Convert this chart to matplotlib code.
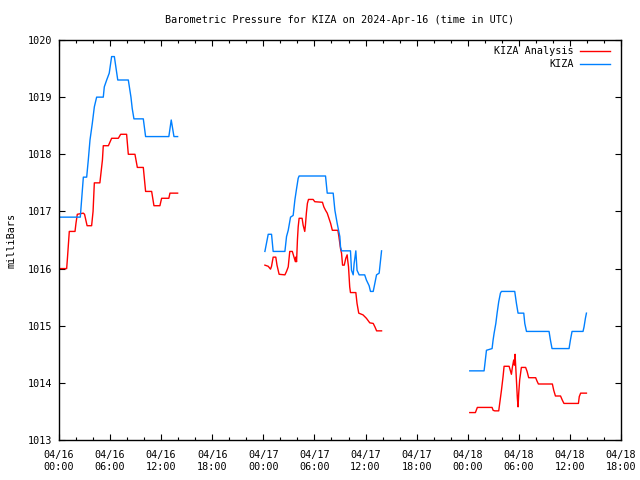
import numpy as np
import matplotlib
matplotlib.use("Agg")
import matplotlib.pyplot as plt
from matplotlib.ticker import MultipleLocator

nan = float("nan")

# hours since 2024-04-16 00:00 UTC
kiza_hours = [0.0, 2.5, 2.86, 3.25, 3.44, 3.64, 3.91, 4.15, 4.42, 5.2, 5.32, 5.6, 5.9, 6.18, 6.5,
              6.9, 8.14, 8.45, 8.6, 8.8, 9.9, 10.17, 12.9, 13.18, 13.5, 13.93,
              nan,
              24.18, 24.57, 24.96, 25.15, 26.53, 26.72, 26.92, 27.19, 27.5, 27.7, 27.9, 28.09, 28.2,
              31.3, 31.5, 32.2, 32.4, 32.67, 32.98, 33.06, 33.18, 34.23, 34.35, 34.55, 34.66, 34.86,
              35.0, 35.25, 35.9, 36.1, 36.42, 36.58, 36.9, 37.09, 37.29, 37.6, 37.88,
              nan,
              48.24, 49.92, 50.0, 50.2, 50.86, 50.98, 51.1, 51.3, 51.45, 51.64, 51.84, 51.96, 53.52,
              53.72, 53.91, 54.58, 54.7, 54.9, 57.55, 57.71, 57.9, 59.9, 60.06, 60.25, 61.54, 61.66,
              61.82, 61.94]
kiza_values = [1016.9, 1016.9, 1017.6, 1017.6, 1017.9, 1018.25, 1018.54, 1018.83, 1019.0, 1019.0,
               1019.18, 1019.3, 1019.42, 1019.71, 1019.71, 1019.3, 1019.3, 1019.0, 1018.8, 1018.62,
               1018.62, 1018.31, 1018.31, 1018.6, 1018.31, 1018.31,
               nan,
               1016.3, 1016.6, 1016.6, 1016.3, 1016.3, 1016.56, 1016.67, 1016.9, 1016.93, 1017.2,
               1017.4, 1017.58, 1017.62, 1017.62, 1017.32, 1017.32, 1017.02, 1016.79, 1016.56,
               1016.38, 1016.31, 1016.31, 1015.97, 1015.89, 1016.09, 1016.31, 1015.97, 1015.89,
               1015.89, 1015.8, 1015.7, 1015.6, 1015.6, 1015.74, 1015.89, 1015.92, 1016.31,
               nan,
               1014.21, 1014.21, 1014.31, 1014.57, 1014.6, 1014.75, 1014.87, 1015.04, 1015.22,
               1015.42, 1015.57, 1015.6, 1015.6, 1015.39, 1015.22, 1015.22, 1015.04, 1014.9,
               1014.9, 1014.75, 1014.6, 1014.6, 1014.75, 1014.9, 1014.9, 1014.98, 1015.13, 1015.22]

analysis_hours = [0.0, 0.9, 1.0, 1.21, 1.88, 2.0, 2.15, 2.85, 3.0, 3.3, 3.83, 4.0, 4.15, 4.8, 5.1,
                  5.2, 5.8, 6.18, 6.97, 7.24, 7.94, 8.14, 8.92, 9.2, 9.9, 10.17, 10.88, 11.15, 11.85,
                  12.05, 12.9, 13.03, 13.93,
                  nan,
                  24.18, 24.57, 24.84, 24.96, 25.15, 25.46, 25.6, 25.85, 26.53, 26.72, 26.92, 27.1,
                  27.4, 27.6, 27.76, 27.8, 27.9, 28.0, 28.09, 28.2, 28.55, 28.67, 28.86, 28.94,
                  29.05, 29.17, 29.3, 29.84, 30.04, 30.94, 31.1, 31.3, 31.5, 31.7, 31.9, 32.1,
                  32.75, 32.87, 33.06, 33.18, 33.3, 33.5, 33.68, 33.84, 33.9, 34.0, 34.06, 34.14,
                  34.23, 34.86, 35.0, 35.2, 35.7, 36.1, 36.5, 36.9, 37.1, 37.3, 37.88,
                  nan,
                  48.24, 48.9, 49.13, 50.86, 50.98, 51.17, 51.64, 51.76, 51.96, 52.15, 52.27, 52.86,
                  53.0, 53.13, 53.25, 53.4, 53.48, 53.56, 53.72, 53.83, 53.91, 53.99, 54.1, 54.3,
                  54.8, 54.97, 55.16, 55.98, 56.14, 56.3, 57.94, 58.1, 58.3, 58.9, 59.1, 59.3,
                  61.0, 61.1, 61.26, 61.94]
analysis_values = [1016.0, 1016.0, 1016.2, 1016.65, 1016.65, 1016.8, 1016.95, 1016.97, 1016.95,
                   1016.75, 1016.75, 1017.0, 1017.5, 1017.5, 1017.9, 1018.15, 1018.15, 1018.28,
                   1018.28, 1018.35, 1018.35, 1018.0, 1018.0, 1017.77, 1017.77, 1017.35, 1017.35,
                   1017.1, 1017.1, 1017.23, 1017.23, 1017.32, 1017.32,
                   nan,
                   1016.06, 1016.04, 1015.99, 1016.04, 1016.2, 1016.2, 1016.06, 1015.9, 1015.89,
                   1015.95, 1016.03, 1016.3, 1016.3, 1016.2, 1016.12, 1016.2, 1016.12, 1016.5,
                   1016.73, 1016.88, 1016.88, 1016.76, 1016.65, 1016.76, 1016.97, 1017.14, 1017.21,
                   1017.21, 1017.17, 1017.16, 1017.08, 1017.02, 1016.97, 1016.88, 1016.79, 1016.67,
                   1016.67, 1016.56, 1016.35, 1016.27, 1016.06, 1016.06, 1016.18, 1016.24, 1016.15,
                   1016.03, 1015.89, 1015.68, 1015.58, 1015.58, 1015.39, 1015.22, 1015.19, 1015.13,
                   1015.05, 1015.04, 1014.98, 1014.91, 1014.91,
                   nan,
                   1013.48, 1013.48, 1013.57, 1013.57, 1013.52, 1013.51, 1013.51, 1013.64, 1013.87,
                   1014.11, 1014.29, 1014.29, 1014.22, 1014.15, 1014.28, 1014.4, 1014.31, 1014.5,
                   1014.05, 1013.73, 1013.58, 1013.82, 1014.05, 1014.27, 1014.27, 1014.2, 1014.09,
                   1014.09, 1014.03, 1013.98, 1013.98, 1013.87, 1013.77, 1013.77, 1013.7, 1013.64,
                   1013.64, 1013.76, 1013.82, 1013.82]

x_tick_hours = [0, 6, 12, 18, 24, 30, 36, 42, 48, 54, 60, 66]
x_tick_labels = ["04/16\n00:00", "04/16\n06:00", "04/16\n12:00", "04/16\n18:00",
                 "04/17\n00:00", "04/17\n06:00", "04/17\n12:00", "04/17\n18:00",
                 "04/18\n00:00", "04/18\n06:00", "04/18\n12:00", "04/18\n18:00"]
y_ticks = [1013, 1014, 1015, 1016, 1017, 1018, 1019, 1020]

title = "Barometric Pressure for KIZA on 2024-Apr-16 (time in UTC)"
y_label = "milliBars"

FS = 7.3
plt.rcParams['font.family'] = ['DejaVu Sans Mono']
fig = plt.figure(figsize=(6.4, 4.8), dpi=100)
ax = fig.add_axes([59/640, 40/480, (621-59)/640, 400/480])

ax.plot(analysis_hours, analysis_values, color='#ff0000', lw=1.0, label='KIZA Analysis')
ax.plot(kiza_hours, kiza_values, color='#0080ff', lw=1.0, label='KIZA')

ax.set_xlim(0, 66)
ax.set_ylim(1013, 1020)
ax.set_xticks(x_tick_hours)
ax.set_xticklabels(x_tick_labels, fontsize=FS, linespacing=1.25)
ax.xaxis.set_minor_locator(MultipleLocator(2))
ax.set_yticks(y_ticks)
ax.set_yticklabels([str(v) for v in y_ticks], fontsize=FS)
ax.tick_params(axis='x', which='major', pad=7.5)
ax.tick_params(axis='y', which='major', pad=5)
ax.tick_params(axis='both', which='major', direction='in', length=4, width=0.8,
               top=True, right=True)
ax.tick_params(axis='both', which='minor', direction='in', length=2, width=0.8,
               top=True, right=True)
for s in ax.spines.values():
    s.set_linewidth(1.0)

fig.text(340/640, 1 - 20/480, title, fontsize=FS, ha='center', va='center')
ax.set_ylabel(y_label, fontsize=FS, labelpad=8)

leg = ax.legend(loc='upper right', frameon=False, markerfirst=False, fontsize=FS,
                handlelength=3.0, handletextpad=0.6, labelspacing=0.3,
                borderaxespad=0.0, bbox_to_anchor=(1 - 7/562, 1 - 2/400))
for t in leg.get_texts():
    t.set_ha('right')
leg._legend_box.align = 'right'

fig.savefig("out.png", dpi=100)
